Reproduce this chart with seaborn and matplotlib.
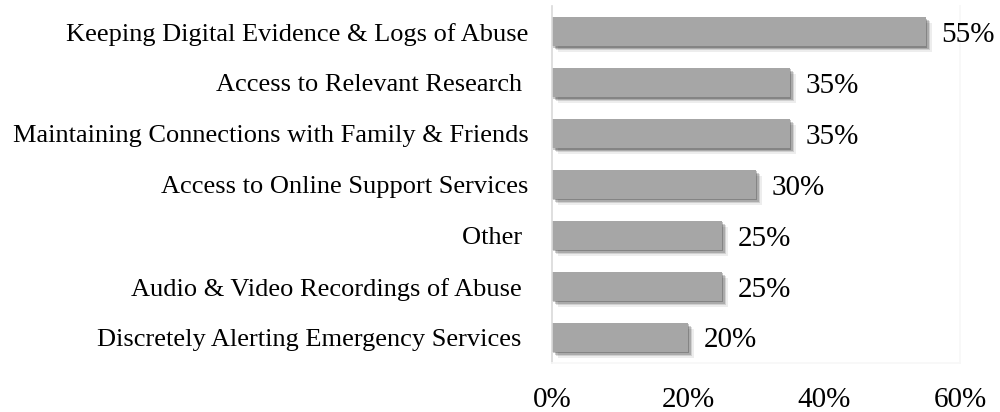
import matplotlib
matplotlib.use("Agg")
import matplotlib.pyplot as plt
import matplotlib.patheffects as pe
import seaborn as sns
import pandas as pd
from matplotlib.ticker import FuncFormatter

categories = [
    "Keeping Digital Evidence & Logs of Abuse",
    "Access to Relevant Research ",
    "Maintaining Connections with Family & Friends",
    "Access to Online Support Services",
    "Other ",
    "Audio & Video Recordings of Abuse ",
    "Discretely Alerting Emergency Services ",
]
percentages = [55, 35, 35, 30, 25, 25, 20]
x_ticks = [0, 20, 40, 60]

df = pd.DataFrame({"category": categories, "pct": percentages})

sns.set_theme(style="white")
plt.rcParams["font.family"] = ["Liberation Serif", "DejaVu Serif"]

fig = plt.figure(figsize=(10, 4.12), dpi=100)
ax = fig.add_axes([0.552, 0.119, 0.408, 0.866])

sns.barplot(data=df, x="pct", y="category", color="#a6a6a6", saturation=1,
            width=0.57, orient="h", ax=ax)

# soft drop shadow under each bar
shadow = [
    pe.SimplePatchShadow(offset=(4.0, -4.0), shadow_rgbFace="black", alpha=0.07),
    pe.SimplePatchShadow(offset=(3.0, -3.0), shadow_rgbFace="black", alpha=0.12),
    pe.SimplePatchShadow(offset=(2.0, -2.0), shadow_rgbFace="black", alpha=0.18),
    pe.SimplePatchShadow(offset=(1.0, -1.0), shadow_rgbFace="black", alpha=0.22),
    pe.Normal(),
]
for patch in ax.patches:
    patch.set_edgecolor("none")
    patch.set_path_effects(shadow)

for container in ax.containers:
    texts = ax.bar_label(container, labels=[f"{v:g}%" for v in container.datavalues],
                         padding=11, fontsize=21, color="black")
    for t in texts:
        t.set_verticalalignment("center_baseline")

ax.set_xlim(0, 60)
ax.set_xticks(x_ticks)
ax.xaxis.set_major_formatter(FuncFormatter(lambda v, _: f"{v:.0f}%"))
ax.tick_params(axis="x", length=0, pad=17, labelsize=21, colors="black")
ax.tick_params(axis="y", length=0, pad=17, labelsize=19, colors="black")
ax.set_xlabel("")
ax.set_ylabel("")

ax.spines["top"].set_visible(False)
ax.spines["left"].set_color("#d9d9d9")
ax.spines["left"].set_linewidth(1.2)
ax.spines["right"].set_color("#f7f7f7")
ax.spines["bottom"].set_color("#f7f7f7")

fig.savefig("out.png", dpi=100, facecolor="white")
